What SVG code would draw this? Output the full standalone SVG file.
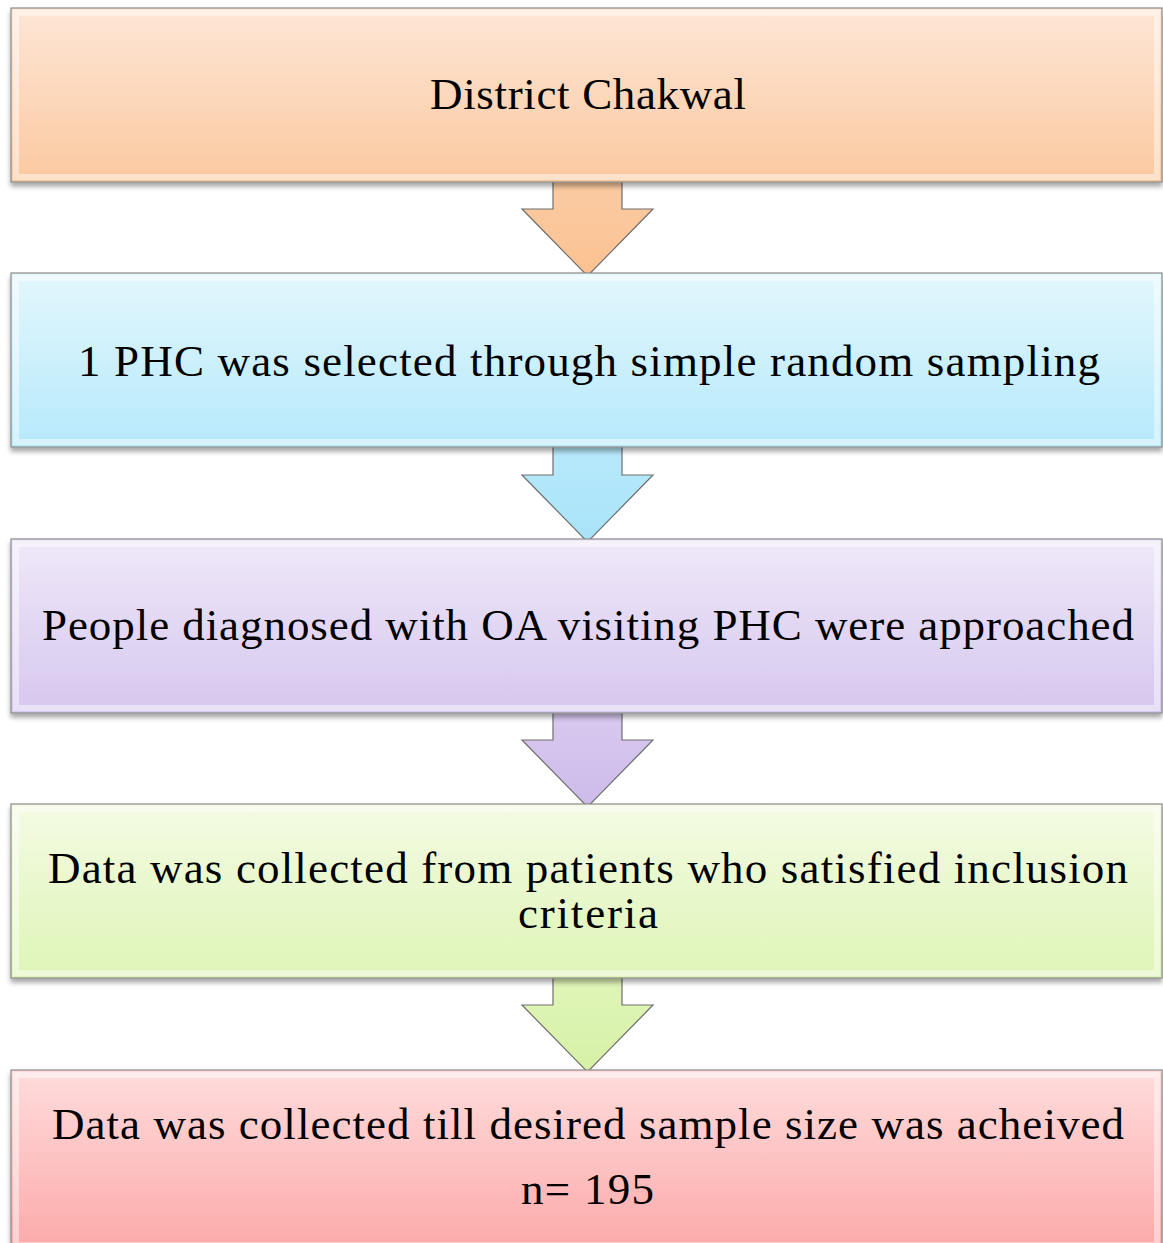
<svg xmlns="http://www.w3.org/2000/svg" width="1163" height="1243" viewBox="0 0 1163 1243">
<style>
.box{stroke:#8a8a8a;stroke-width:1.2;filter:url(#sh)}
.arr{stroke:#6e6e6e;stroke-width:1.2;stroke-linejoin:miter}
.t{font-family:"Liberation Serif","Times New Roman",serif;font-size:45px;fill:#000;text-anchor:middle}
.hl{fill:none;stroke:#ffffff;stroke-opacity:0.45;stroke-width:6}
</style>
<defs>
<filter id="sh" x="-5%" y="-10%" width="110%" height="130%">
<feGaussianBlur in="SourceAlpha" stdDeviation="2.5"/>
<feOffset dy="4" result="b"/>
<feComponentTransfer><feFuncA type="linear" slope="0.35"/></feComponentTransfer>
<feMerge><feMergeNode/><feMergeNode in="SourceGraphic"/></feMerge>
</filter>
<linearGradient id="g1" x1="0" y1="0" x2="0" y2="1"><stop offset="0" stop-color="#fde6d6"/><stop offset="1" stop-color="#fbc9a0"/></linearGradient>
<linearGradient id="g2" x1="0" y1="0" x2="0" y2="1"><stop offset="0" stop-color="#e3f7fd"/><stop offset="1" stop-color="#b6e9fb"/></linearGradient>
<linearGradient id="g3" x1="0" y1="0" x2="0" y2="1"><stop offset="0" stop-color="#efe8f9"/><stop offset="1" stop-color="#d6c7ee"/></linearGradient>
<linearGradient id="g4" x1="0" y1="0" x2="0" y2="1"><stop offset="0" stop-color="#f4fbe4"/><stop offset="1" stop-color="#def5b6"/></linearGradient>
<linearGradient id="g5" x1="0" y1="0" x2="0" y2="1"><stop offset="0" stop-color="#fedcdc"/><stop offset="1" stop-color="#fda9a9"/></linearGradient>
<linearGradient id="a1" x1="0" y1="0" x2="0" y2="1"><stop offset="0" stop-color="#fbcba2"/><stop offset="1" stop-color="#fbc292"/></linearGradient>
<linearGradient id="a2" x1="0" y1="0" x2="0" y2="1"><stop offset="0" stop-color="#b8e9fb"/><stop offset="1" stop-color="#a8e3f9"/></linearGradient>
<linearGradient id="a3" x1="0" y1="0" x2="0" y2="1"><stop offset="0" stop-color="#d8c9ef"/><stop offset="1" stop-color="#cdbbea"/></linearGradient>
<linearGradient id="a4" x1="0" y1="0" x2="0" y2="1"><stop offset="0" stop-color="#e0f5b8"/><stop offset="1" stop-color="#d6f1a6"/></linearGradient>
</defs>
<rect width="1163" height="1243" fill="#ffffff"/>
<g id="connectors">
<path class="arr" fill="url(#a1)" d="M553 182 V209 H522 L587.5 276 L653 209 H622 V182"/>
<path class="arr" fill="url(#a2)" d="M553 447 V475 H522 L587.5 542 L653 475 H622 V447"/>
<path class="arr" fill="url(#a3)" d="M553 713 V740 H522 L587.5 807 L653 740 H622 V713"/>
<path class="arr" fill="url(#a4)" d="M553 978 V1005 H522 L587.5 1072 L653 1005 H622 V978"/>
</g>
<g id="n1">
<rect class="box" x="11" y="8" width="1151" height="174" fill="url(#g1)"/>
<rect class="hl" x="16" y="13" width="1141" height="164"/>
<text class="t" x="588" y="109" textLength="316">District Chakwal</text>
</g>
<g id="n2">
<rect class="box" x="11" y="273" width="1151" height="174" fill="url(#g2)"/>
<rect class="hl" x="16" y="278" width="1141" height="164"/>
<text class="t" x="589" y="376" textLength="1022">1 PHC was selected through simple random sampling</text>
</g>
<g id="n3">
<rect class="box" x="11" y="539" width="1151" height="174" fill="url(#g3)"/>
<rect class="hl" x="16" y="544" width="1141" height="164"/>
<text class="t" x="588" y="640" textLength="1092">People diagnosed with OA visiting PHC were approached</text>
</g>
<g id="n4">
<rect class="box" x="11" y="804" width="1151" height="174" fill="url(#g4)"/>
<rect class="hl" x="16" y="809" width="1141" height="164"/>
<text class="t"><tspan x="588" y="883" textLength="1080">Data was collected from patients who satisfied inclusion</tspan><tspan x="588" y="928" textLength="140">criteria</tspan></text>
</g>
<g id="n5">
<rect class="box" x="11" y="1070" width="1151" height="180" fill="url(#g5)"/>
<rect class="hl" x="16" y="1075" width="1141" height="170"/>
<text class="t" x="588" y="1139" textLength="1072">Data was collected till desired sample size was acheived</text>
<text class="t" x="587.5" y="1204" textLength="133">n= 195</text>
</g>
</svg>
